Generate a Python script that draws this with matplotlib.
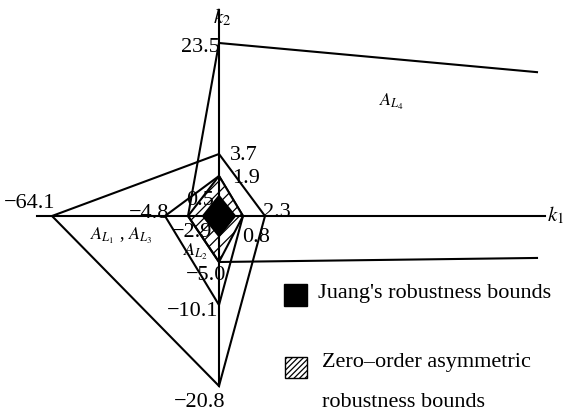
import numpy as np
import matplotlib.pyplot as plt
from matplotlib.patches import Polygon, Rectangle

plt.rcParams['font.family'] = ['Liberation Serif', 'DejaVu Serif']
plt.rcParams['mathtext.fontset'] = 'stix'
plt.rcParams['hatch.linewidth'] = 0.9

# Robustness regions in the (k1, k2) plane, vertices listed around each region
juang_k1 = [-0.5, 0.0, 0.5, 0.0]
juang_k2 = [0.0, 0.5, 0.0, -0.5]

zero_k1 = [-2.9, 0.0, 0.8, 0.0]
zero_k2 = [0.0, 1.9, 0.0, -5.0]

al2_k1 = [-4.8, 0.0, 0.8, 0.0]
al2_k2 = [0.0, 1.9, 0.0, -10.1]

al13_k1 = [-64.1, 0.0, 2.3, 0.0]
al13_k2 = [0.0, 3.7, 0.0, -20.8]

# A_L4 is open to the right (k1 -> large)
al4_k1 = [30.0, 0.0, -2.9, 0.0, 30.0]
al4_k2 = [18.3, 23.5, 0.0, -5.0, -4.3]

# values written next to the axes
k1_ticks = [-64.1, -4.8, -2.9, 0.8, 2.3]
k2_ticks = [23.5, 3.7, 1.9, 0.5, -5.0, -10.1, -20.8]

# the sketch is not to scale: piecewise mapping of values onto the page
x_knots = [-80.0, -64.1, -4.8, -2.9, -0.5, 0.0, 0.5, 0.8, 2.3, 30.0, 40.0]
x_place = [-219, -167, -54, -31, -16, 0, 16, 24, 46, 318, 354]
y_knots = [-26.0, -20.8, -10.1, -5.0, -0.5, 0.0, 0.5, 1.9, 3.7, 23.5, 30.0]
y_place = [-199, -170, -89, -46, -20, 0, 20, 40, 62, 173, 216]


def scale_funcs(knots, place):
    knots = np.asarray(knots, float)
    place = np.asarray(place, float)
    fwd = lambda v: np.interp(v, knots, place)
    inv = lambda p: np.interp(p, place, knots)
    return fwd, inv


def fmt(v):
    return f"{v:.1f}".replace('-', '\u2212')


fig = plt.figure(figsize=(5.73, 4.15), dpi=100)
ax = fig.add_axes([0, 0, 1, 1])
ax.set_xscale('function', functions=scale_funcs(x_knots, x_place))
ax.set_yscale('function', functions=scale_funcs(y_knots, y_place))
ax.set_xlim(x_knots[0], x_knots[-1])
ax.set_ylim(y_knots[0], y_knots[-1])
ax.axis('off')

lw = 1.5

# axes
ax.plot([0.065, 0.951], [0, 0], color='black', lw=lw,
        transform=ax.get_yaxis_transform())
fy = scale_funcs(y_knots, y_place)[0]
y_lo = (fy(min(k2_ticks)) - y_place[0]) / (y_place[-1] - y_place[0])

# outer regions
ax.add_patch(Polygon(np.column_stack([al13_k1, al13_k2]), closed=True,
                     fill=False, edgecolor='black', lw=lw))
ax.plot(al4_k1, al4_k2, color='black', lw=lw)
ax.add_patch(Polygon(np.column_stack([al2_k1, al2_k2]), closed=True,
                     fill=False, edgecolor='black', lw=lw))

# zero-order asymmetric bounds (hatched) and Juang's bounds (solid)
ax.add_patch(Polygon(np.column_stack([zero_k1, zero_k2]), closed=True,
                     facecolor='white', edgecolor='black', hatch='///', lw=lw))
ax.axvline(0, ymin=y_lo, ymax=0.976, color='black', lw=lw)
ax.add_patch(Polygon(np.column_stack([juang_k1, juang_k2]), closed=True,
                     facecolor='black', edgecolor='black', lw=lw))

fs = 16
px = 0.72  # points per pixel

# k2 value labels: offsets in pixels (dx, dy) and alignment
k2_offsets = {23.5: (1, -4, 'right'), 3.7: (11, -2, 'left'),
              1.9: (13, -2, 'left'), 0.5: (-19, -4, 'center'),
              -5.0: (-13, -13, 'center'), -10.1: (-26, -6, 'center'),
              -20.8: (-19, -16, 'center')}
for v in k2_ticks:
    dx, dy, ha = k2_offsets[v]
    ax.annotate(fmt(v), (0, v), xytext=(dx * px, dy * px),
                textcoords='offset points', ha=ha, va='center', fontsize=fs)

k1_offsets = {-64.1: (-22, 13), -4.8: (-16, 3), -2.9: (4, -16),
              0.8: (13, -21), 2.3: (12, 4)}
for v in k1_ticks:
    dx, dy = k1_offsets[v]
    ax.annotate(fmt(v), (v, 0), xytext=(dx * px, dy * px),
                textcoords='offset points', ha='center', va='center',
                fontsize=fs)

# axis names
ax.text(556 / 573, 1 - 215 / 415, r'$k_1$', transform=ax.transAxes,
        ha='center', va='center', fontsize=15)
ax.annotate(r'$k_2$', (0, 1 - 17 / 415), xycoords=('data', 'axes fraction'),
            xytext=(3 * px, 0), textcoords='offset points',
            ha='center', va='center', fontsize=15)

# region names
ax.text(392 / 573, 1 - 102 / 415, r'$A_{L_4}$', transform=ax.transAxes,
        ha='center', va='center', fontsize=13)
ax.text(121 / 573, 1 - 236 / 415, r'$A_{L_1}$ , $A_{L_3}$',
        transform=ax.transAxes, ha='center', va='center', fontsize=13)
ax.text(196 / 573, 1 - 252 / 415, r'$A_{L_2}$', transform=ax.transAxes,
        ha='center', va='center', fontsize=13)

# legend
ax.add_patch(Rectangle((284 / 573, 1 - 306 / 415), 23 / 573, 22 / 415,
                       transform=ax.transAxes, facecolor='black',
                       edgecolor='black'))
ax.add_patch(Rectangle((285 / 573, 1 - 378 / 415), 22 / 573, 21 / 415,
                       transform=ax.transAxes, facecolor='white',
                       edgecolor='black', hatch='//////', lw=1.0))
ax.text(318 / 573, 1 - 293 / 415, "Juang's robustness bounds",
        transform=ax.transAxes, ha='left', va='center', fontsize=fs)
ax.text(322 / 573, 1 - 362 / 415, "Zero\u2013order asymmetric",
        transform=ax.transAxes, ha='left', va='center', fontsize=fs)
ax.text(322 / 573, 1 - 402 / 415, "robustness bounds",
        transform=ax.transAxes, ha='left', va='center', fontsize=fs)

fig.savefig('out.png', dpi=100)
